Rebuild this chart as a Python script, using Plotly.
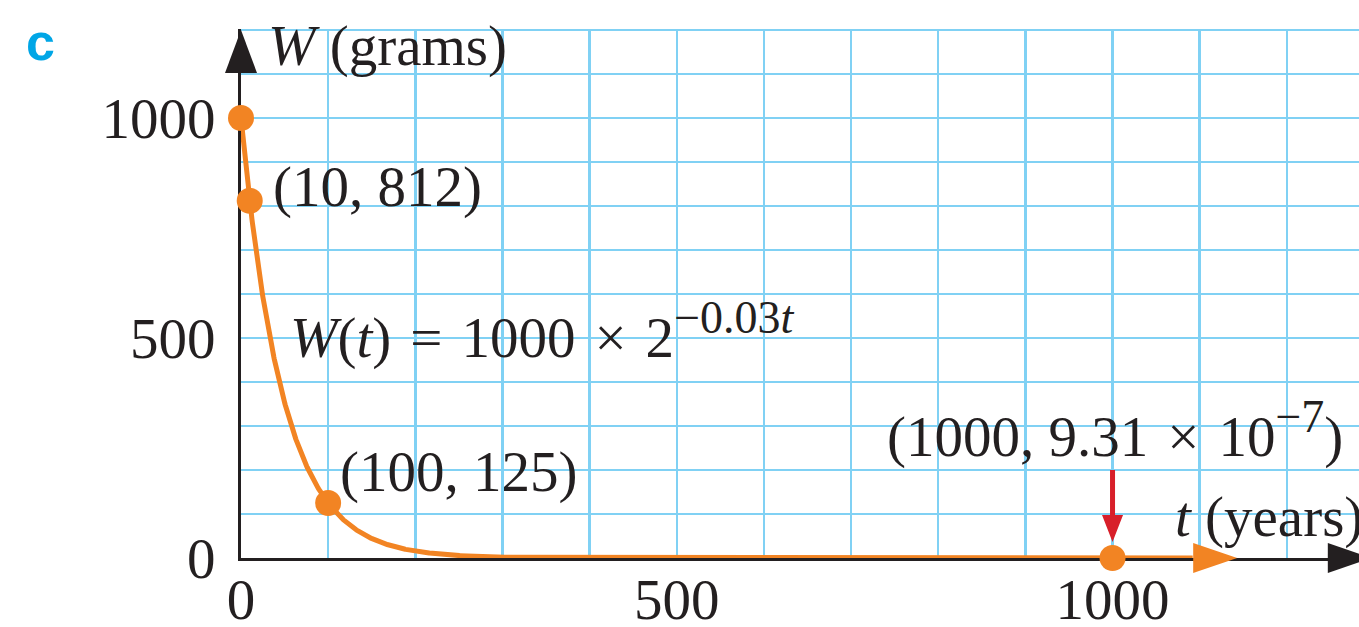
import numpy as np
import plotly.graph_objects as go

# Decay model shown on the chart: W(t) = W0 * 2^(-RATE * t)
W0 = 1000
RATE = 0.03
T_END = 1092  # the curve stops where its arrowhead begins
T_TIP = 1143  # tip of the curve's arrowhead

# Highlighted points
pt_t = [0, 10, 100, 1000]
pt_w = [1000, 812, 125, 9.31e-7]

# Axis ticks
t_tickvals = [0, 500, 1000]
t_ticktext = ["0", "500", "1000"]
w_tickvals = [0, 500, 1000]
w_ticktext = ["0", "500", "1000"]
GRID_STEP = 100

# Visible window of the axes
X_MAX = 1282.8
Y_MAX = 1202.3
Y_ARROW_TIP = 1200
X_ARROW_BASE = 1247

# Styling
SERIF = "Liberation Serif"
FS = 57
SUP = '<sup><span style="font-size:46px">{}</span></sup>'
INK = "#231f20"
GRID = "#80d1f4"
ORANGE = "#f28423"
RED = "#d81f2a"
CYAN = "#00a6e6"

t_curve = np.linspace(0, T_END, 2000)
w_curve = W0 * 2.0 ** (-RATE * t_curve)

fig = go.Figure()
fig.add_trace(go.Scatter(
    x=t_curve, y=w_curve, mode="lines",
    line=dict(color=ORANGE, width=5), hoverinfo="skip", showlegend=False,
))
fig.add_trace(go.Scatter(
    x=pt_t, y=pt_w, mode="markers",
    marker=dict(color=ORANGE, size=26, line=dict(width=0)),
    cliponaxis=False, showlegend=False,
))


def px(t):
    return t / X_MAX


def py(w):
    return w / Y_MAX


def head(anchor_x, anchor_y, path, color):
    # pixel-sized arrowhead anchored at a point in plot-fraction coordinates
    return dict(
        type="path", xref="paper", yref="paper",
        xsizemode="pixel", ysizemode="pixel",
        xanchor=anchor_x, yanchor=anchor_y, path=path,
        fillcolor=color, line=dict(width=0), layer="above",
    )


shapes = [
    # W axis arrowhead
    head(px(0), py(Y_ARROW_TIP), "M0,0 L16,-43 L-16,-43 Z", INK),
    # t axis arrowhead
    head(px(X_ARROW_BASE), py(0), "M0,15 L44,0 L0,-15 Z", INK),
    # curve arrowhead
    head(px(T_TIP), py(0), "M0,0 L-44,15 L-44,-15 Z", ORANGE),
    # red pointer to (1000, W(1000))
    head(px(pt_t[3]), py(0),
         "M-2.5,88 L2.5,88 L2.5,43 L10.5,43 L0,16 L-10.5,43 L-2.5,43 Z", RED),
]

txt = dict(family=SERIF, size=FS, color=INK)


def label(text, x, y, xanchor="left", xshift=0, yshift=0, xref="x", yref="y", font=None):
    return dict(
        text=text, x=x, y=y, xref=xref, yref=yref, showarrow=False,
        xanchor=xanchor, yanchor="bottom", xshift=xshift, yshift=yshift,
        borderpad=0, borderwidth=0, font=font or txt,
    )


annotations = [
    label("<i>W</i> (grams)", 31, 1090),
    label("(10, 812)", pt_t[1], pt_w[1], xshift=23, yshift=-18),
    label("(100, 125)", pt_t[2], pt_w[2], xshift=12, yshift=-1),
    label("<i>W</i>(<i>t</i>)\u2004=\u20041000\u2004×\u20042" + SUP.format("−0.03<i>t</i>"), 56, 427),
    label("(1000, 9.31\u2004×\u200410" + SUP.format("−7") + ")", pt_t[3], pt_w[3],
          xanchor="center", xshift=2, yshift=89),
    label("<i>t</i> (years)", 1072, 20),
    label("<b>c</b>", -0.192, 0.92, xref="paper", yref="paper",
          font=dict(family="Liberation Sans", size=52, color=CYAN)),
]

axis_common = dict(
    showline=True, linecolor=INK, linewidth=3, layer="below traces",
    zeroline=False, showgrid=True, gridcolor=GRID, gridwidth=2.5,
    tickmode="array", ticks="", tickfont=txt, fixedrange=True, automargin=False,
    minor=dict(dtick=GRID_STEP, tick0=0, showgrid=True, gridcolor=GRID, gridwidth=2.5),
)

fig.update_layout(
    width=1359, height=627,
    margin=dict(l=241, r=0, t=29, b=69, pad=0),
    paper_bgcolor="white", plot_bgcolor="white",
    xaxis=dict(range=[0, X_MAX], tickvals=t_tickvals, ticktext=t_ticktext,
               ticklabelstandoff=-10, **axis_common),
    yaxis=dict(range=[0, Y_MAX], tickvals=w_tickvals, ticktext=w_ticktext,
               ticklabelstandoff=11, **axis_common),
    shapes=shapes, annotations=annotations, showlegend=False,
)

fig.write_html("out.html", config={"displayModeBar": False, "staticPlot": True})
